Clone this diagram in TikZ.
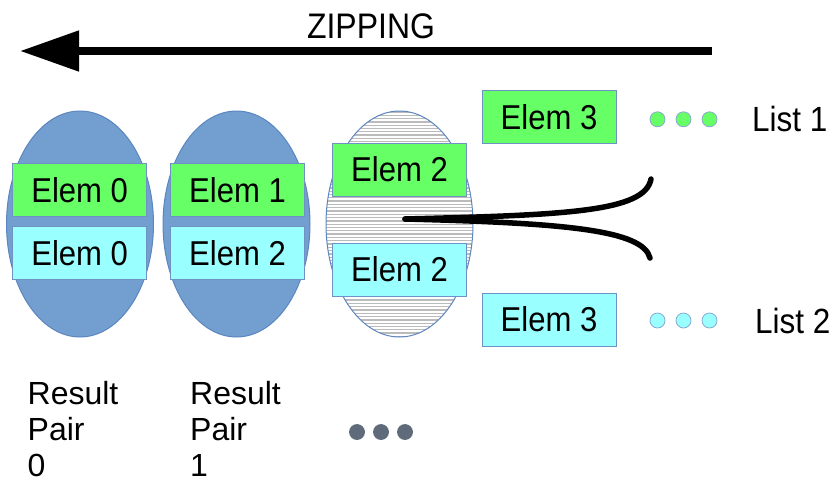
\documentclass[tikz,border=0pt]{standalone}
\usepackage{fontspec}
\setmainfont{Liberation Sans}
\newfontfamily\narrowfont{Liberation Sans}[FakeStretch=0.9]
\usetikzlibrary{arrows.meta,shapes.geometric}
\definecolor{ellblue}{HTML}{729FCF}
\definecolor{ellline}{HTML}{5B86C0}
\definecolor{boxgreen}{HTML}{66FF66}
\definecolor{boxcyan}{HTML}{99FFFF}
\definecolor{boxline}{HTML}{6E92C4}
\definecolor{dotgrey}{HTML}{5F6B7A}
\definecolor{hatch}{HTML}{BBBBBB}
\begin{document}
\begin{tikzpicture}[x=1pt,y=-1pt,
  pairell/.style={ellipse, draw=ellline, line width=1pt, fill=ellblue, minimum width=147pt, minimum height=226pt, inner sep=0pt, outer sep=0pt},
  elembox/.style={rectangle, draw=boxline, line width=1pt, minimum width=134pt, minimum height=53pt, inner sep=0pt, font=\narrowfont\fontsize{34.5}{36}\selectfont},
  gbox/.style={elembox, fill=boxgreen},
  cbox/.style={elembox, fill=boxcyan},
  lbl/.style={font=\fontsize{32}{36}\selectfont, inner sep=0pt},
  listlbl/.style={font=\narrowfont\fontsize{35}{36}\selectfont, inner sep=0pt},
  dotnode/.style={circle, minimum size=15pt, inner sep=0pt, line width=0.8pt},
  gdot/.style={dotnode, fill=boxgreen, draw=boxline!80},
  cdot/.style={dotnode, fill=boxcyan, draw=boxline!80},
  pdot/.style={dotnode, fill=dotgrey, draw=dotgrey},
  fork/.style={line width=5.5pt, line cap=round}
]
\useasboundingbox (0,0) rectangle (838,483);

% zipping arrow
\coordinate (as) at (712,51);
\coordinate (ae) at (20,51);
\draw[line width=8pt, -{Triangle[length=59pt,width=39pt]}] (as) -- (ae);
\node[font=\narrowfont\fontsize{35.5}{36}\selectfont, anchor=base, inner sep=0pt] (zip) at (371,38.3) {ZIPPING};

% result pairs
\node[pairell] (el0) at (80,224) {};
\node[pairell] (el1) at (236.5,224) {};
\node[gbox] (g0) at (79.7,190.3) {Elem 0};
\node[cbox] (c0) at (79.7,253) {Elem 0};
\node[gbox] (g1) at (237.5,190.3) {Elem 1};
\node[cbox] (c1) at (237.5,253) {Elem 2};

% hatched ellipse being zipped
\node[ellipse, minimum width=147pt, minimum height=226pt, inner sep=0pt, outer sep=0pt] (el2) at (399.5,224) {};
\begin{scope}
  \clip (el2.center) ellipse [x radius=73.5pt, y radius=113pt];
  \fill[white] (el2.center) ellipse [x radius=73.5pt, y radius=113pt];
  \foreach \yy in {112.0,115.3,...,337} \draw[hatch, line width=1.3pt] (320,\yy) -- (480,\yy);
\end{scope}
\draw[ellline, line width=1pt] (el2.center) ellipse [x radius=73.5pt, y radius=113pt];

% fork
\coordinate (fs) at (405,219);
\coordinate (fu) at (651,179);
\coordinate (fl) at (650,258);
\draw[fork] (fs) .. controls (565,215) and (645,212) .. (fu);
\draw[fork] (fs) .. controls (565,223) and (643,230) .. (fl);

\node[gbox] (g2) at (399.5,169.5) {Elem 2};
\node[cbox] (c2) at (399.5,269.5) {Elem 2};

% next elements
\node[gbox] (g3) at (549,117) {Elem 3};
\node[cbox] (c3) at (549,319.5) {Elem 3};

\node[gdot] (gd1) at (657.5,119.3) {};
\node[gdot] (gd2) at (683.5,119.3) {};
\node[gdot] (gd3) at (709.5,119.3) {};
\node[cdot] (cd1) at (657.5,320.5) {};
\node[cdot] (cd2) at (683.5,320.5) {};
\node[cdot] (cd3) at (709.5,320.5) {};

\node[listlbl, anchor=base west] (l1) at (752,131) {List 1};
\node[listlbl, anchor=base west] (l2) at (755,333) {List 2};

% result labels
\node[lbl, anchor=north west, align=left] (r0) at (27.5,381.5) {Result\\Pair\\0};
\node[lbl, anchor=north west, align=left] (r1) at (190,381.5) {Result\\Pair\\1};

\node[pdot] (pd1) at (357,432) {};
\node[pdot] (pd2) at (381,432) {};
\node[pdot] (pd3) at (405,432) {};
\end{tikzpicture}
\end{document}
